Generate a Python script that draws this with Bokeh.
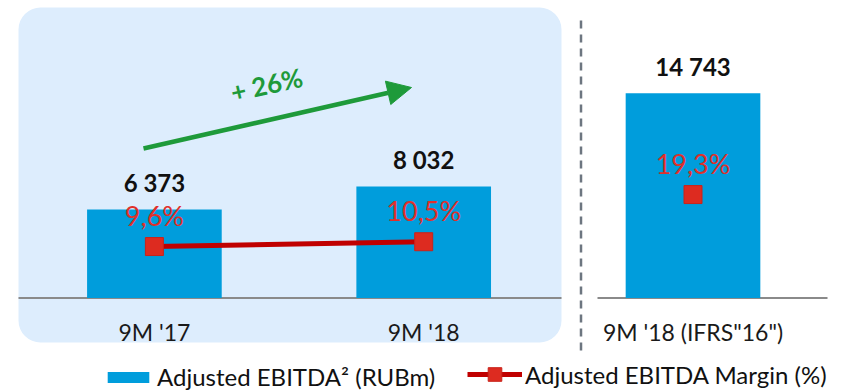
from bokeh.plotting import figure
from bokeh.models import (Range1d, BoxAnnotation, Arrow, NormalHead, Legend,
                          LegendItem, ColumnDataSource)
from bokeh.core.properties import value
from bokeh.embed import file_html
from bokeh.resources import INLINE

# ---- data -------------------------------------------------------------
categories = ["9M '17", "9M '18", "9M '18 (IFRS\"16\")"]
ebitda = [6373, 8032, 14743]            # Adjusted EBITDA, RUBm
margin = [9.6, 10.5, 19.3]              # Adjusted EBITDA margin, %
ebitda_labels = ["6 373", "8 032", "14 743"]
margin_labels = ["9,6%", "10,5%", "19,3%"]

# ---- layout constants (pixels) ---------------------------------------
W, H = 846, 392
SLOT = 269.3          # distance between category centres
FIRST = 153.9         # centre of the first category
BASE = 297.5          # baseline, from the top
PX_PER_RUB = 0.01389  # bar scale
PX_PER_PCT = 5.36     # margin scale

FONT_NAME = "Lato"
FONT = value(FONT_NAME)
GREEN = "#1E9A3A"
BLUE = "#009DDC"
RED = "#DD2B20"
DARK_RED = "#C00000"


def px_x(px):
    return (px - FIRST) / SLOT


def px_y(py):
    return (BASE - py) / PX_PER_RUB


idx = list(range(len(categories)))
src = ColumnDataSource(dict(x=idx, cat=categories, ebitda=ebitda, margin=margin,
                            elab=ebitda_labels, mlab=margin_labels))

p = figure(width=W, height=H, output_backend="svg", toolbar_location=None,
           x_range=Range1d(px_x(0), px_x(W)),
           y_range=Range1d(px_y(H), px_y(0)),
           x_axis_location=None, y_axis_location=None,
           min_border=0, outline_line_color=None,
           background_fill_color="white", border_fill_color="white")
p.min_border_left = p.min_border_right = p.min_border_top = p.min_border_bottom = 0
p.extra_y_ranges = {"margin": Range1d(-(H - BASE) / PX_PER_PCT, BASE / PX_PER_PCT)}
p.grid.grid_line_color = None

# shaded panel behind the comparable periods
p.add_layout(BoxAnnotation(left=px_x(18), right=px_x(561), top=px_y(7), bottom=px_y(342),
                           fill_color="#DDEDFD", fill_alpha=1, line_color=None,
                           border_radius=22, level="underlay"))

# baselines
p.segment(x0=[px_x(18), px_x(597)], x1=[px_x(561), px_x(827)], y0=[0, 0], y1=[0, 0],
          line_color="#8A8A8A", line_width=2)

# dashed separator
p.segment(x0=[px_x(580.5)], x1=[px_x(580.5)], y0=[px_y(20)], y1=[px_y(352)],
          line_color="#6D7680", line_width=2.5, line_dash="8 6")

# bars
bars = p.vbar(x="x", top="ebitda", width=0.5, source=src, fill_color=BLUE, line_color=None)

# margin line (comparable periods only) and markers
line = p.line(x=idx[:2], y=margin[:2], y_range_name="margin", line_color=DARK_RED, line_width=5)
marks = p.scatter(x="x", y="margin", source=src, y_range_name="margin", marker="square",
                  size=18, fill_color=RED, line_color="#C9231A", line_width=1)

# value labels
p.text(x="x", y="ebitda", text="elab", source=src, text_font=FONT, text_font_style="bold",
       text_font_size="24px", text_align="center", text_baseline="middle",
       y_offset=-27, text_color="#111111")
p.text(x="x", y="margin", text="mlab", source=src, y_range_name="margin", text_font=FONT,
       text_font_size="27px", text_align="center", text_baseline="middle",
       y_offset=-31, text_color="#E0302A")

# category labels
p.text(x="x", y=0, text="cat", source=src, text_font=FONT, text_font_size="23px",
       text_align="center", text_baseline="middle", y_offset=34, text_color="#1A1A1A")

# growth arrow between the comparable periods
growth = round((ebitda[1] / ebitda[0] - 1) * 100)
p.add_layout(Arrow(x_start=px_x(143), y_start=px_y(148), x_end=px_x(411), y_end=px_y(87),
                   line_color=GREEN, line_width=4.5,
                   end=NormalHead(size=24, fill_color=GREEN, line_color=GREEN)))
p.text(x=[px_x(266)], y=[px_y(84)], text=[f"+ {growth}%"], angle=0.22, text_font=FONT,
       text_font_style="bold", text_font_size="26px", text_align="center",
       text_baseline="middle", text_color=GREEN)

# legend
leg_common = dict(orientation="horizontal", padding=0, margin=0, border_line_color=None,
                  background_fill_alpha=0, label_text_font=FONT_NAME,
                  label_text_font_size="24px", label_text_color="#111111", label_standoff=3)
leg1 = Legend(items=[LegendItem(label="Adjusted EBITDA\u00b2 (RUBm)", renderers=[bars])],
              location=(102, 1), glyph_width=52, glyph_height=14, **leg_common)
leg2 = Legend(items=[LegendItem(label="Adjusted EBITDA Margin (%)", renderers=[line, marks])],
              location=(467, 1), glyph_width=55, glyph_height=34, **leg_common)
p.add_layout(leg1)
p.add_layout(leg2)

open("out.html", "w").write(file_html(p, INLINE))
